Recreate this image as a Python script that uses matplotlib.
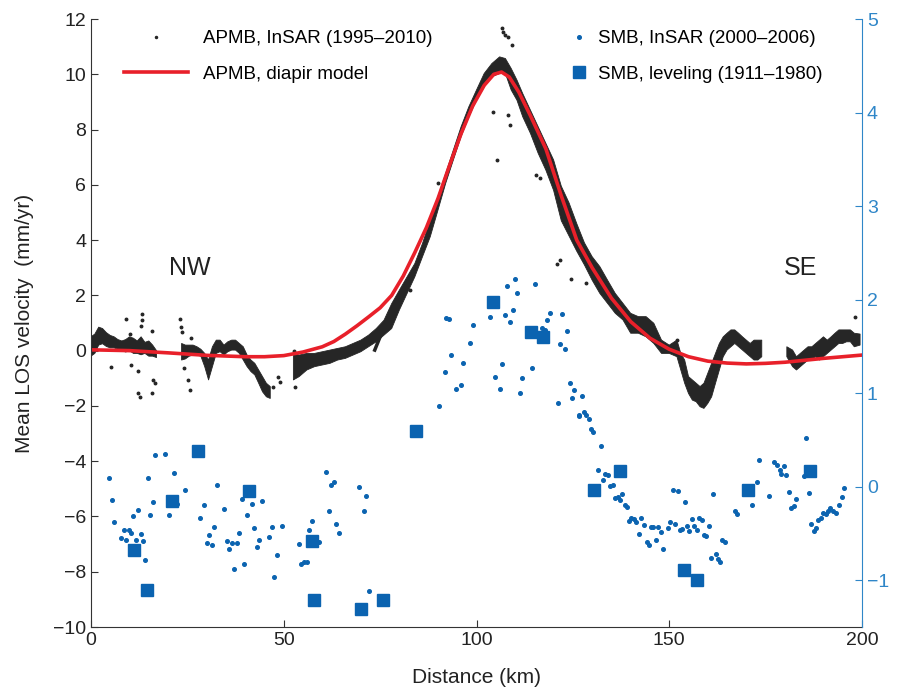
import numpy as np
import matplotlib.pyplot as plt
from matplotlib.lines import Line2D

plt.rcParams['font.family'] = ['Liberation Sans', 'DejaVu Sans']

nan = np.nan

# === APMB InSAR band (lower / upper edge of the dense dot cloud, mm/yr) ===
apmb_x = [0, 1, 2, 3, 4, 5, 6, 7, 8, 9, 10, 11, 12, 13, 14, 15, 16, 17, nan,
          23.5, 24.5, 25.5, 26.5, 27.5, 28.5, 29.5, 30.5, 31.5, 32.5, 33.5, 34.5,
          35.5, 36.5, 37.5, 38.5, 39.5, 40.5, 41.5, 42.5, 43.5, 44.5, 45.5, 46.5, nan,
          52.5, 54, 56, 58, 60, 62, 64, 66, 68, 70, 72, 74, 76, 78, 80, 82, 84, 86,
          88, 90, 92, 94, 96, 98, 100, 102, 104, 106, 107.5, 109, 110.5, 112, 114,
          116, 118, 120, 122, 124, 126, 128, 130, 132, 134, 136, 138, 140, 142, 144,
          146, 148, 150, 152, 153, 154, 155, 156, 157, 158, 159, 160, 161, 162, 163,
          164, 165, 166, 167, 168, 169, 170, 171, 172, 173, 174, nan,
          180.5, 182, 183, 184, 185, 186, 187, 188, 189, 190, 191, 192, 193, 194,
          195, 196, 197, 198, 199.5]
apmb_lo = [-0.2, -0.1, 0.2, 0.25, 0.15, 0.1, 0.1, 0.05, 0.0, -0.05, 0.0, -0.1, -0.1,
           -0.15, -0.1, -0.2, -0.2, -0.25, nan,
           -0.34, -0.3, -0.2, -0.16, -0.16, -0.2, -0.58, -1.06, -0.58, -0.1, -0.04,
           -0.16, -0.04, 0.02, 0.02, -0.1, -0.34, -0.58, -0.76, -0.88, -1.18, -1.49,
           -1.67, -1.73, nan,
           -1.06, -0.94, -0.7, -0.58, -0.52, -0.46, -0.34, -0.28, -0.16, -0.04, 0.14,
           0.32, 0.56, 0.8, 1.47, 2.07, 2.67, 3.4, 4.12, 5.08, 6.05, 6.9, 7.74, 8.46,
           9.06, 9.55, 9.91, 10.03, 10.03, 9.43, 9.06, 8.46, 7.86, 7.14, 6.53, 5.8,
           4.7, 4.15, 3.6, 3.1, 2.55, 2.07, 1.71, 1.35, 1.11, 0.63, 0.63, 0.5, 0.26,
           -0.1, -0.1, -0.22, -0.7, -1.18, -1.55, -1.79, -1.85, -2.03, -2.09, -1.91,
           -1.67, -1.18, -0.7, -0.22, 0.02, 0.14, 0.26, 0.14, 0.02, -0.1, -0.22,
           -0.34, -0.34, -0.22, nan,
           -0.22, -0.58, -0.7, -0.58, -0.46, -0.34, -0.34, -0.22, -0.34, -0.22, -0.1,
           0.02, 0.14, 0.26, 0.26, 0.32, 0.32, 0.14, 0.2]
apmb_hi = [0.5, 0.6, 0.85, 0.8, 0.65, 0.55, 0.5, 0.4, 0.35, 0.4, 0.5, 0.45, 0.35,
           0.5, 0.3, 0.35, 0.2, 0.0, nan,
           0.26, 0.2, 0.2, 0.2, 0.14, 0.05, -0.1, -0.34, 0.14, 0.38, 0.38, 0.2, 0.32,
           0.38, 0.38, 0.26, 0.14, -0.16, -0.34, -0.46, -0.7, -0.94, -1.18, -1.3, nan,
           -0.1, -0.16, -0.1, -0.1, -0.04, 0.02, 0.08, 0.14, 0.26, 0.38, 0.56, 0.8,
           1.1, 1.7, 2.19, 2.67, 3.15, 3.88, 4.72, 5.57, 6.41, 7.26, 8.1, 8.82, 9.43,
           10.03, 10.39, 10.63, 10.57, 10.21, 9.79, 9.3, 8.7, 8.1, 7.5, 6.9, 5.95,
           5.35, 4.6, 3.9, 3.4, 3.04, 2.55, 2.07, 1.71, 1.35, 1.23, 1.23, 0.99, 0.38,
           0.2, 0.38, -0.1, -0.34, -0.94, -1.06, -1.18, -1.3, -1.18, -0.82, -0.46,
           -0.1, 0.26, 0.5, 0.63, 0.75, 0.75, 0.63, 0.5, 0.38, 0.26, 0.38, 0.38, 0.38,
           nan,
           0.14, 0.02, -0.22, -0.1, 0.02, 0.14, 0.14, 0.26, 0.38, 0.5, 0.38, 0.5, 0.63,
           0.75, 0.75, 0.75, 0.75, 0.63, 0.6]

# steep secondary strand NW of the peak
branch_x = [73.6, 75, 76.3, 77.5]
branch_y = [0.02, 0.5, 0.95, 1.35]

# scattered APMB points away from the main band
out_x = [9.1, 13.3, 13.1, 12.9, 10.1, 5.1, 10.3, 12.3, 12.3, 12.7, 15.7, 16.2, 16.6,
         15.9, 23.1, 23.3, 23.5, 24.2, 25.2, 25.7, 25.9, 48.6, 49.0, 47.3, 52.6, 52.9,
         106.5, 106.9, 107.3, 108.2, 109.1, 104.3, 108.2, 108.7, 105.2, 90.1, 82.7,
         115.5, 116.4, 124.6, 121.6, 120.8, 128.4, 198.1, 152.1]
out_y = [1.13, 1.32, 1.11, 0.89, 0.62, -0.6, -0.52, -0.73, -1.52, -1.69, -1.55, -1.06,
         -1.18, 0.72, 1.13, 0.87, 0.68, -0.64, -1.06, -1.42, 0.44, -0.94, -1.12, -1.3,
         -0.02, -1.3, 11.66, 11.54, 11.42, 11.36, 11.05, 8.64, 8.52, 8.16, 6.89, 6.08,
         2.19, 6.35, 6.23, 2.61, 3.28, 3.15, 2.46, 1.23, 0.38]

# === APMB diapir model ===
model_x = [0, 10, 20, 30, 40, 45, 50, 55, 60, 63, 66, 69, 72, 75, 78, 81, 84, 87, 90,
           93, 96, 99, 102, 104.5, 106.5, 108.5, 111, 114, 118, 122, 126, 130, 135,
           140, 145, 150, 155, 160, 165, 170, 175, 180, 185, 190, 195, 200]
model_y = [0.03, 0.0, -0.08, -0.17, -0.22, -0.22, -0.18, -0.05, 0.14, 0.33, 0.6,
           0.9, 1.22, 1.55, 2.0, 2.7, 3.55, 4.45, 5.5, 6.7, 7.85, 8.85, 9.6, 10.0,
           10.08, 9.9, 9.35, 8.5, 7.3, 5.6, 4.0, 3.0, 1.9, 1.05, 0.45, 0.05, -0.22,
           -0.38, -0.45, -0.48, -0.46, -0.42, -0.35, -0.28, -0.22, -0.16]

# === SMB InSAR (right axis) ===
smb_x = [4.67, 5.37, 5.97, 7.87, 8.47, 9.08, 9.77, 10.3, 10.9, 11.6, 12.2, 12.9, 13.4,
         14.0, 14.7, 15.3, 16.0, 16.5, 19.1, 20.2, 21.5, 22.4, 24.3, 28.2, 29.4, 30.1,
         30.7, 31.4, 32.0, 32.7, 34.6, 35.3, 35.9, 36.6, 37.2, 37.9, 38.5, 39.2, 39.8,
         40.4, 41.7, 42.4, 43.0, 43.7, 44.3, 46.2, 46.9, 47.5, 48.2, 49.5, 54.0, 54.6,
         55.2, 56.0, 56.6, 57.2, 59.1, 61.0, 61.7, 62.3, 63.0, 63.6, 64.3, 69.4, 70.8,
         71.4, 72.0,
         90.4, 91.7, 92.2, 92.8, 93.5, 94.7, 96.0, 96.6, 98.4, 99.1, 103.4, 104.7,
         106.1, 106.6, 107.4, 108.0, 108.7, 109.4, 110.0, 110.6, 111.3, 111.9, 114.5,
         115.2, 117.1, 117.7, 118.3, 119.1, 121.1, 121.7, 122.3, 122.9, 123.6, 124.2,
         124.9, 125.3, 126.5,
         127.3, 126.7, 127.8, 128.5, 129.2, 129.8, 130.3, 132.2, 131.6, 133.4, 134.1,
         132.9, 134.7, 135.4, 136.0, 136.6, 137.2, 137.8, 138.4, 139.1, 140.2, 139.6,
         140.9, 141.5, 142.8, 142.2, 143.5, 144.1, 144.7, 145.3, 145.9, 146.6, 147.2,
         147.8, 148.4, 149.6, 150.3, 150.9, 151.6, 152.2, 152.7, 153.3, 154.0, 154.6,
         155.2, 155.9, 156.5, 157.1, 157.8, 158.4, 158.9, 159.6, 160.2, 160.8, 161.4,
         162.0, 162.7, 163.2, 163.8, 164.5, 167.0, 167.6, 171.5, 172.8, 173.4, 176.0,
         177.2, 177.9, 178.6, 179.1, 179.7, 180.3, 181.0, 181.7, 182.3, 183.0, 184.9,
         185.5, 186.2, 186.9, 187.5, 188.1, 188.7, 189.3, 189.9, 190.6, 191.2, 191.8,
         192.6, 193.3, 194.0, 194.7, 195.3]
smb_v = [0.09, -0.14, -0.38, -0.55, -0.46, -0.57, -0.46, -0.5, -0.31, -0.57, -0.25,
         -0.51, -0.58, -0.78, 0.09, -0.3, -0.16, 0.34, 0.35, -0.3, 0.15, -0.19, -0.04,
         -0.34, -0.2, -0.6, -0.52, -0.62, -0.43, 0.02, -0.24, -0.58, -0.67, -0.6, -0.88,
         -0.6, -0.5, -0.13, -0.83, -0.3, -0.19, -0.44, -0.64, -0.57, -0.15, -0.54,
         -0.43, -0.97, -0.73, -0.42, -0.61, -0.83, -0.81, -0.8, -0.46, -0.37, -0.59,
         0.16, -0.26, 0.02, 0.05, -0.4, -0.5, 0.0, -0.26, -0.1, -1.11,
         0.86, 1.23, 1.80, 1.79, 1.41, 1.04, 1.09, 1.32, 1.54, 1.73, 1.81, 1.17, 1.04,
         1.31, 1.84, 2.15, 1.76, 1.89, 2.22, 2.07, 1.0, 1.16, 1.27, 2.17, 1.70, 1.68,
         1.78, 1.86, 0.89, 1.53, 1.85, 1.47, 1.66, 1.11, 0.95, 1.03, 0.76,
         0.97, 0.77, 0.8, 0.77, 0.72, 0.62, 0.59, 0.43, 0.18, 0.14, 0.12, 0.07, 0.01,
         0.02, -0.12, -0.11, -0.14, -0.08, -0.2, -0.22, -0.33, -0.37, -0.35, -0.38,
         -0.34, -0.51, -0.41, -0.59, -0.62, -0.43, -0.43, -0.57, -0.43, -0.48, -0.67,
         -0.44, -0.38, -0.04, -0.4, -0.05, -0.46, -0.45, -0.16, -0.42, -0.47, -0.35,
         -0.42, -0.46, -0.34, -0.36, -0.52, -0.53, -0.42, -0.76, -0.08, -0.72, -0.77,
         -0.8, -0.57, -0.59, -0.26, -0.29, -0.2, 0.05, 0.29, -0.1, 0.26, 0.23, 0.18,
         0.14, 0.22, 0.13, -0.06, -0.23, -0.21, -0.13, 0.11, 0.52, -0.07, -0.4, -0.47,
         -0.44, -0.36, -0.33, -0.28, -0.29, -0.26, -0.23, -0.26, -0.28, -0.2, -0.11,
         -0.01]

# === SMB leveling (right axis) ===
lev_x = [11.1, 14.4, 21.0, 27.8, 41.0, 57.3, 57.8, 70.0, 75.7, 84.3, 104.3, 114.1,
         117.3, 130.5, 137.1, 153.7, 157.1, 170.4, 186.4]
lev_v = [-0.68, -1.10, -0.15, 0.38, -0.05, -0.58, -1.21, -1.31, -1.21, 0.60, 1.97,
         1.65, 1.60, -0.04, 0.17, -0.89, -1.0, -0.04, 0.17]

black = '#262626'
red = '#e8202a'
blue = '#0b63b0'
axis_blue = '#2f86c8'

fig = plt.figure(figsize=(8.97, 6.88), dpi=100)
ax = fig.add_axes([91 / 897, 61 / 688, 771 / 897, 608 / 688])
ax2 = ax.twinx()

ax.fill_between(apmb_x, apmb_lo, apmb_hi, color=black, lw=0.6, edgecolor=black)
ax.plot(branch_x, branch_y, color=black, lw=2.5)
ax.plot(out_x, out_y, 'o', ms=1.8, color=black, ls='none')
ax.plot(model_x, model_y, color=red, lw=2.6)

ax2.plot(smb_x, smb_v, 'o', ms=2.6, color=blue, ls='none')
ax2.plot(lev_x, lev_v, 's', ms=8, color=blue, ls='none')

ax.set_xlim(0, 200)
ax.set_ylim(-10, 12)
ax2.set_ylim(-1.5, 5)
ax.set_xticks([0, 50, 100, 150, 200])
ax.set_yticks(range(-10, 13, 2))
ax2.set_yticks(range(-1, 6))

ax.tick_params(direction='in', length=5, labelsize=14, color='#333333', labelcolor='#222222')
ax2.tick_params(direction='in', length=5, labelsize=14, colors=axis_blue)
for s in ['top', 'right']:
    ax.spines[s].set_visible(False)
for s in ['top', 'left', 'bottom']:
    ax2.spines[s].set_visible(False)
ax2.spines['right'].set_color(axis_blue)
ax.spines['left'].set_color('#333333')
ax.spines['bottom'].set_color('#333333')

ax.set_ylabel('Mean LOS velocity  (mm/yr)', fontsize=15, color='#222222', labelpad=14)
ax.set_xlabel('Distance (km)', fontsize=15, color='#222222', labelpad=14)

ax.text(25.7, 3.0, 'NW', fontsize=18, ha='center', va='center', color='#222222')
ax.text(184, 3.0, 'SE', fontsize=18, ha='center', va='center', color='#222222')

h1 = [Line2D([], [], marker='o', ms=1.5, color=black, ls='none'),
      Line2D([], [], color=red, lw=2.6)]
leg1 = ax.legend(h1, ['APMB, InSAR (1995\u20132010)', 'APMB, diapir model'],
                 loc='upper left', bbox_to_anchor=(0.043, 0.982), frameon=False,
                 fontsize=13.5, handlelength=3.4, handletextpad=0.8,
                 labelspacing=1.0, borderpad=0, borderaxespad=0)
ax.add_artist(leg1)
h2 = [Line2D([], [], marker='o', ms=2.6, color=blue, ls='none'),
      Line2D([], [], marker='s', ms=8, color=blue, ls='none')]
ax.legend(h2, ['SMB, InSAR (2000\u20132006)', 'SMB, leveling (1911\u20131980)'],
          loc='upper left', bbox_to_anchor=(0.621, 0.982), frameon=False,
          fontsize=13.5, handlelength=1.0, handletextpad=0.5,
          labelspacing=1.0, borderpad=0, borderaxespad=0)

fig.savefig('out.png', dpi=100)
